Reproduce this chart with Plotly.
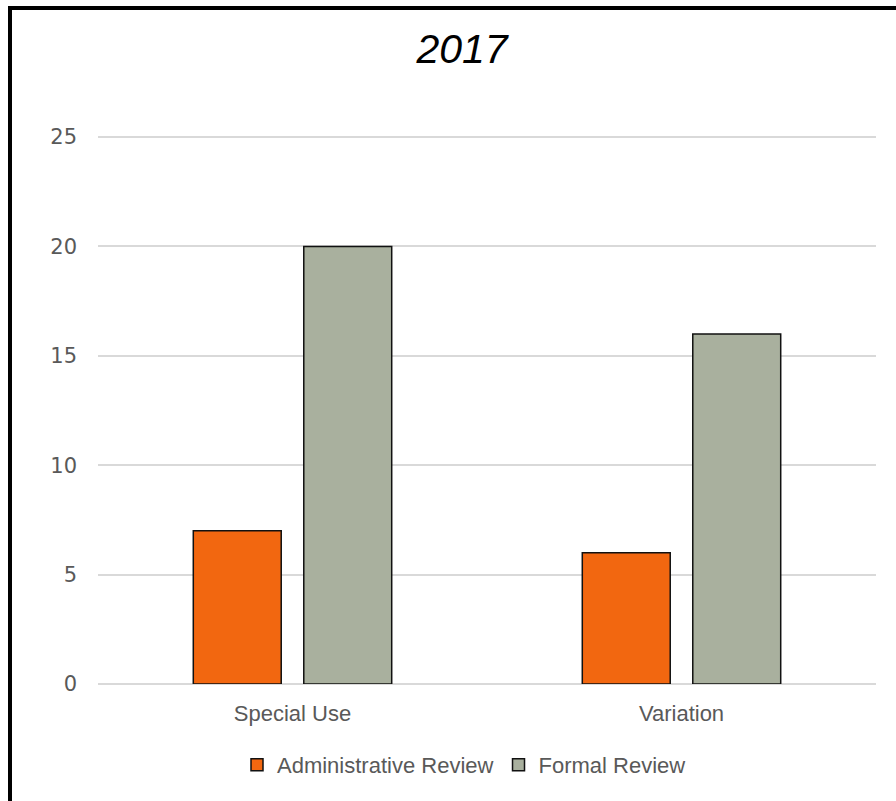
import plotly.graph_objects as go

# Review counts by application type, 2017
categories = ["Special Use", "Variation"]
administrative_review = [7, 6]
formal_review = [20, 16]
y_ticks = [0, 5, 10, 15, 20, 25]

W, H = 896, 801
M_L, M_R, M_T, M_B = 98, 20, 136, 117
plot_w = W - M_L - M_R
plot_h = H - M_T - M_B


def px_to_paper_x(px):
    return (px - M_L) / plot_w


def px_to_paper_y(py):
    return (H - M_B - py) / plot_h


fig = go.Figure()
fig.add_trace(go.Bar(
    name="Administrative Review",
    x=categories,
    y=administrative_review,
    marker=dict(color="#F26710", line=dict(color="#111111", width=1.5)),
))
fig.add_trace(go.Bar(
    name="Formal Review",
    x=categories,
    y=formal_review,
    marker=dict(color="#A9B09E", line=dict(color="#111111", width=1.5)),
))

text_font = dict(family="Liberation Sans, Arial, sans-serif", size=22, color="#595959")
num_font = dict(family="DejaVu Sans, sans-serif", size=21, color="#595959")

fig.update_layout(
    width=W,
    height=H,
    margin=dict(l=M_L, r=M_R, t=M_T, b=M_B),
    paper_bgcolor="white",
    plot_bgcolor="white",
    barmode="group",
    bargap=0.432,
    bargroupgap=0.204,
    title=dict(
        text="<i>2017</i>",
        font=dict(family="Liberation Sans, Arial, sans-serif", size=41, color="black"),
        x=px_to_paper_x(462),
        xref="paper",
        xanchor="center",
        y=1 - 49 / H,
        yanchor="middle",
    ),
    showlegend=True,
    legend=dict(
        orientation="h",
        x=px_to_paper_x(464),
        xanchor="center",
        y=px_to_paper_y(765),
        yanchor="middle",
        font=text_font,
        itemwidth=30,
        traceorder="normal",
        bgcolor="rgba(0,0,0,0)",
    ),
    xaxis=dict(
        showgrid=False,
        showline=False,
        tickfont=text_font,
        ticks="",
        ticklabelstandoff=14,
    ),
    yaxis=dict(
        range=[0, 25.05],
        tickvals=y_ticks,
        showgrid=True,
        gridcolor="#D9D9D9",
        gridwidth=1.5,
        zeroline=True,
        zerolinecolor="#D9D9D9",
        zerolinewidth=1.5,
        showline=False,
        tickfont=num_font,
        ticks="",
        ticklabelstandoff=20,
    ),
    shapes=[
        # chart frame: left and top edges
        dict(type="line", xref="paper", yref="paper",
             x0=px_to_paper_x(10), x1=px_to_paper_x(10),
             y0=px_to_paper_y(H + 20), y1=px_to_paper_y(6),
             line=dict(color="black", width=4)),
        dict(type="line", xref="paper", yref="paper",
             x0=px_to_paper_x(8), x1=px_to_paper_x(W + 20),
             y0=px_to_paper_y(8), y1=px_to_paper_y(8),
             line=dict(color="black", width=4)),
    ],
)

fig.write_html("out.html")
